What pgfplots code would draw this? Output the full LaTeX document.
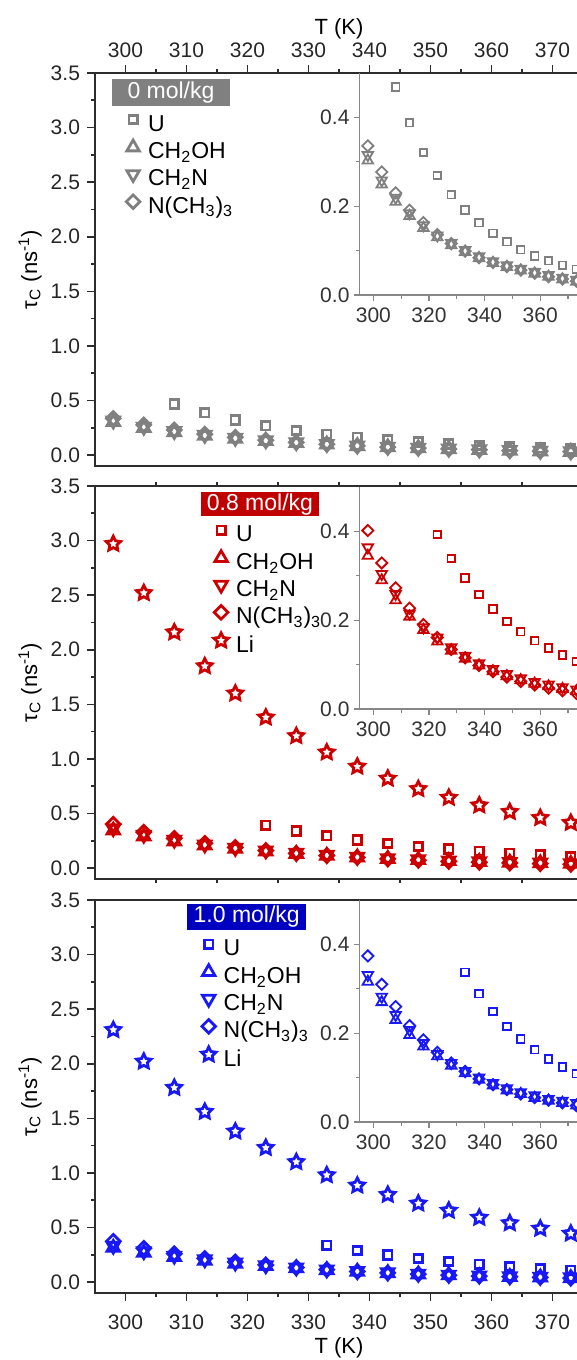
\documentclass[border=0pt]{standalone}
\usepackage{fontspec}
\setmainfont{Liberation Sans}
\usepackage{pgfplots}
\pgfplotsset{compat=1.18}
\usepackage{pgfplotstable}

\definecolor{cG}{RGB}{128,128,128}
\definecolor{cGbox}{RGB}{128,128,128}
\definecolor{cR}{RGB}{204,0,0}
\definecolor{cRbox}{RGB}{192,0,0}
\definecolor{cB}{RGB}{25,25,245}
\definecolor{cBbox}{RGB}{0,0,192}
\definecolor{cAx}{RGB}{45,45,45}
\definecolor{cIn}{RGB}{135,135,135}

\newcommand\tfont{\fontsize{10.5}{12}\selectfont}
\newcommand\lfont{\fontsize{11}{13}\selectfont}
\newcommand\gfont{\fontsize{11.5}{13}\selectfont}

\pgfdeclareplotmark{ostar}{%
  \pgfpathmoveto{\pgfpointpolar{90}{\pgfplotmarksize}}%
  \pgfpathlineto{\pgfpointpolar{126}{0.5\pgfplotmarksize}}%
  \pgfpathlineto{\pgfpointpolar{162}{\pgfplotmarksize}}%
  \pgfpathlineto{\pgfpointpolar{198}{0.5\pgfplotmarksize}}%
  \pgfpathlineto{\pgfpointpolar{234}{\pgfplotmarksize}}%
  \pgfpathlineto{\pgfpointpolar{270}{0.5\pgfplotmarksize}}%
  \pgfpathlineto{\pgfpointpolar{306}{\pgfplotmarksize}}%
  \pgfpathlineto{\pgfpointpolar{342}{0.5\pgfplotmarksize}}%
  \pgfpathlineto{\pgfpointpolar{18}{\pgfplotmarksize}}%
  \pgfpathlineto{\pgfpointpolar{54}{0.5\pgfplotmarksize}}%
  \pgfpathclose
  \pgfusepathqstroke}
\pgfdeclareplotmark{odiam}{%
  \pgfpathmoveto{\pgfqpoint{0pt}{\pgfplotmarksize}}%
  \pgfpathlineto{\pgfqpoint{\pgfplotmarksize}{0pt}}%
  \pgfpathlineto{\pgfqpoint{0pt}{-\pgfplotmarksize}}%
  \pgfpathlineto{\pgfqpoint{-\pgfplotmarksize}{0pt}}%
  \pgfpathclose
  \pgfusepathqstroke}
\pgfdeclareplotmark{dtri}{%
  \pgfpathmoveto{\pgfqpoint{0pt}{-\pgfplotmarksize}}%
  \pgfpathlineto{\pgfqpoint{0.866\pgfplotmarksize}{0.5\pgfplotmarksize}}%
  \pgfpathlineto{\pgfqpoint{-0.866\pgfplotmarksize}{0.5\pgfplotmarksize}}%
  \pgfpathclose
  \pgfusepathqstroke}

\pgfplotstableread{
T U OH N NM
298 nan 0.303 0.315 0.336
303 nan 0.249 0.258 0.277
308 0.468 0.210 0.219 0.230
313 0.388 0.178 0.184 0.191
318 0.321 0.151 0.157 0.163
323 0.269 0.130 0.134 0.136
328 0.226 0.112 0.117 0.116
333 0.191 0.097 0.101 0.099
338 0.163 0.083 0.087 0.084
343 0.139 0.072 0.076 0.073
348 0.120 0.063 0.067 0.064
353 0.102 0.055 0.059 0.056
358 0.088 0.048 0.052 0.049
363 0.077 0.041 0.045 0.041
368 0.067 0.035 0.039 0.036
373 0.058 0.030 0.034 0.031
}\dataA

\pgfplotstableread{
T U OH N NM Li
298 nan 0.345 0.364 0.402 2.97
303 nan 0.290 0.304 0.329 2.52
308 nan 0.245 0.259 0.273 2.16
313 nan 0.208 0.215 0.227 1.85
318 nan 0.178 0.184 0.190 1.60
323 0.393 0.152 0.161 0.161 1.38
328 0.339 0.131 0.139 0.134 1.21
333 0.295 0.113 0.120 0.115 1.06
338 0.258 0.098 0.103 0.098 0.93
343 0.225 0.085 0.090 0.084 0.82
348 0.197 0.074 0.079 0.072 0.725
353 0.174 0.065 0.069 0.062 0.645
358 0.154 0.057 0.061 0.054 0.575
363 0.137 0.051 0.055 0.047 0.515
368 0.122 0.045 0.049 0.041 0.46
373 0.107 0.040 0.044 0.035 0.415
}\dataB

\pgfplotstableread{
T U OH N NM Li
298 nan 0.316 0.331 0.374 2.31
303 nan 0.270 0.282 0.310 2.02
308 nan 0.230 0.241 0.260 1.78
313 nan 0.196 0.207 0.217 1.56
318 nan 0.170 0.178 0.185 1.38
323 nan 0.148 0.153 0.157 1.23
328 nan 0.127 0.133 0.133 1.10
333 0.337 0.110 0.115 0.114 0.98
338 0.289 0.095 0.100 0.097 0.885
343 0.249 0.082 0.088 0.084 0.80
348 0.215 0.071 0.076 0.073 0.72
353 0.187 0.063 0.067 0.063 0.655
358 0.163 0.054 0.060 0.055 0.59
363 0.142 0.048 0.052 0.049 0.54
368 0.124 0.043 0.048 0.043 0.49
373 0.109 0.037 0.043 0.037 0.445
}\dataC

\pgfplotsset{
  mU/.style={only marks, mark=square, mark size=2.1pt, line width=1.4pt},
  mOH/.style={only marks, mark=triangle, mark size=3.6pt, line width=1.4pt},
  mN/.style={only marks, mark=dtri, mark size=3.6pt, line width=1.4pt},
  mNM/.style={only marks, mark=odiam, mark size=3.4pt, line width=1.4pt},
  mLi/.style={only marks, mark=ostar, mark size=3.8pt, line width=1.4pt},
  iU/.style={only marks, mark=square, mark size=1.9pt, line width=0.9pt},
  iOH/.style={only marks, mark=triangle, mark size=3.0pt, line width=0.9pt},
  iN/.style={only marks, mark=dtri, mark size=3.0pt, line width=0.9pt},
  iNM/.style={only marks, mark=odiam, mark size=2.8pt, line width=0.9pt},
  main/.style={
    width=244pt, height=196.5pt, scale only axis,
    xmin=295, xmax=375, ymin=-0.1, ymax=3.5,
    xtick={300,310,...,370}, minor x tick num=1,
    ytick={0,0.5,...,3.5}, minor y tick num=1,
    tick align=outside, major tick length=4pt, minor tick length=2pt,
    ytick pos=left,
    axis line style={cAx, line width=0.8pt},
    tick style={cAx, line width=0.8pt},
    tick label style={font=\tfont, text=black!85},
    yticklabel style={/pgf/number format/.cd, fixed, fixed zerofill, precision=1},
    /pgf/number format/assume math mode=true,
    ylabel={τ\textsubscript{C} (ns\textsuperscript{-1})},
    ylabel style={font=\lfont, at={(axis description cs:-0.133,0.5)}, anchor=center},
    xlabel style={font=\lfont},
    legend cell align=left,
    legend style={draw=none, fill=none, inner sep=0pt, anchor=north west, font=\gfont,
      column sep=2.5pt, row sep=0pt,
      nodes={inner sep=0pt, text height=8.5pt, text depth=4.5pt}},
    legend image code/.code={\path[draw=none,fill=none] (0pt,-1pt) rectangle (10pt,7pt);
      \draw[##1] plot coordinates {(5pt,3.8pt)};},
    anchor=south west,
  },
  inset/.style={
    width=112.6pt, height=111pt, scale only axis,
    xmin=295, xmax=376, ymin=0, ymax=0.5,
    axis x line=bottom, axis y line=left,
    axis line style={cIn, line width=0.6pt, -},
    xtick={300,320,340,360}, minor xtick={310,330,350,370},
    ytick={0,0.2,0.4}, minor ytick={0.1,0.3},
    tick align=outside, major tick length=3pt, minor tick length=1.8pt,
    tick style={cIn, line width=0.6pt},
    tick label style={font=\tfont, text=black!80},
    yticklabel style={xshift=1.5pt, /pgf/number format/.cd, fixed, fixed zerofill, precision=1},
    /pgf/number format/assume math mode=true,
    anchor=north west,
  },
}

\begin{document}
\begin{tikzpicture}
\useasboundingbox (0,0) rectangle (288.5pt,680pt);

% ---------- panel 1 : 0 mol/kg ----------
\begin{axis}[main, at={(47.5pt,447pt)},
  xtick pos=right, xticklabel pos=right, xlabel={T (K)},
  xlabel style={at={(axis description cs:0.5,1)}, anchor=center, yshift=22pt},
  legend style={at={(rel axis cs:0.0568,0.8990)}}]
\addplot[cG, mU] table[x=T,y=U]{\dataA}; \addlegendentry{U}
\addplot[cG, mOH] table[x=T,y=OH]{\dataA}; \addlegendentry{CH\textsubscript{2}OH}
\addplot[cG, mN] table[x=T,y=N]{\dataA}; \addlegendentry{CH\textsubscript{2}N}
\addplot[cG, mNM] table[x=T,y=NM]{\dataA}; \addlegendentry{N(CH\textsubscript{3})\textsubscript{3}}
\node[fill=cGbox, text=white, minimum width=59pt, minimum height=13.5pt, inner sep=0pt, font=\gfont]
  at (rel axis cs:0.1557,0.9499) {0 mol/kg};
\end{axis}
\begin{axis}[inset, at={(179.75pt,643.5pt)}]
\addplot[cG, iU] table[x=T,y=U]{\dataA};
\addplot[cG, iOH] table[x=T,y=OH]{\dataA};
\addplot[cG, iN] table[x=T,y=N]{\dataA};
\addplot[cG, iNM] table[x=T,y=NM]{\dataA};
\end{axis}

% ---------- panel 2 : 0.8 mol/kg ----------
\begin{axis}[main, at={(47.5pt,240.5pt)},
  xmajorticks=false, xminorticks=false,
  legend style={at={(rel axis cs:0.2371,0.9050)}}]
\addplot[cR, mU] table[x=T,y=U]{\dataB}; \addlegendentry{U}
\addplot[cR, mOH] table[x=T,y=OH]{\dataB}; \addlegendentry{CH\textsubscript{2}OH}
\addplot[cR, mN] table[x=T,y=N]{\dataB}; \addlegendentry{CH\textsubscript{2}N}
\addplot[cR, mNM] table[x=T,y=NM]{\dataB}; \addlegendentry{N(CH\textsubscript{3})\textsubscript{3}}
\addplot[cR, mLi] table[x=T,y=Li]{\dataB}; \addlegendentry{Li}
\node[fill=cRbox, text=white, minimum width=59.3pt, minimum height=12pt, inner sep=0pt, font=\gfont]
  at (rel axis cs:0.338,0.9534) {0.8 mol/kg};
\end{axis}
\begin{axis}[inset, at={(179.75pt,436.5pt)}]
\addplot[cR, iU] table[x=T,y=U]{\dataB};
\addplot[cR, iOH] table[x=T,y=OH]{\dataB};
\addplot[cR, iN] table[x=T,y=N]{\dataB};
\addplot[cR, iNM] table[x=T,y=NM]{\dataB};
\end{axis}

% ---------- panel 3 : 1.0 mol/kg ----------
\begin{axis}[main, at={(47.5pt,33.5pt)},
  xtick pos=left, xticklabel pos=left, xlabel={T (K)},
  xticklabel style={yshift=-3.5pt},
  xlabel style={at={(axis description cs:0.5,0)}, anchor=center, yshift=-27.5pt},
  legend style={at={(rel axis cs:0.2117,0.9050)}}]
\addplot[cB, mU] table[x=T,y=U]{\dataC}; \addlegendentry{U}
\addplot[cB, mOH] table[x=T,y=OH]{\dataC}; \addlegendentry{CH\textsubscript{2}OH}
\addplot[cB, mN] table[x=T,y=N]{\dataC}; \addlegendentry{CH\textsubscript{2}N}
\addplot[cB, mNM] table[x=T,y=NM]{\dataC}; \addlegendentry{N(CH\textsubscript{3})\textsubscript{3}}
\addplot[cB, mLi] table[x=T,y=Li]{\dataC}; \addlegendentry{Li}
\node[fill=cBbox, text=white, minimum width=59.3pt, minimum height=13.3pt, inner sep=0pt, font=\gfont]
  at (rel axis cs:0.3109,0.9567) {1.0 mol/kg};
\end{axis}
\begin{axis}[inset, at={(179.75pt,230pt)}]
\addplot[cB, iU] table[x=T,y=U]{\dataC};
\addplot[cB, iOH] table[x=T,y=OH]{\dataC};
\addplot[cB, iN] table[x=T,y=N]{\dataC};
\addplot[cB, iNM] table[x=T,y=NM]{\dataC};
\end{axis}
\end{tikzpicture}
\end{document}
